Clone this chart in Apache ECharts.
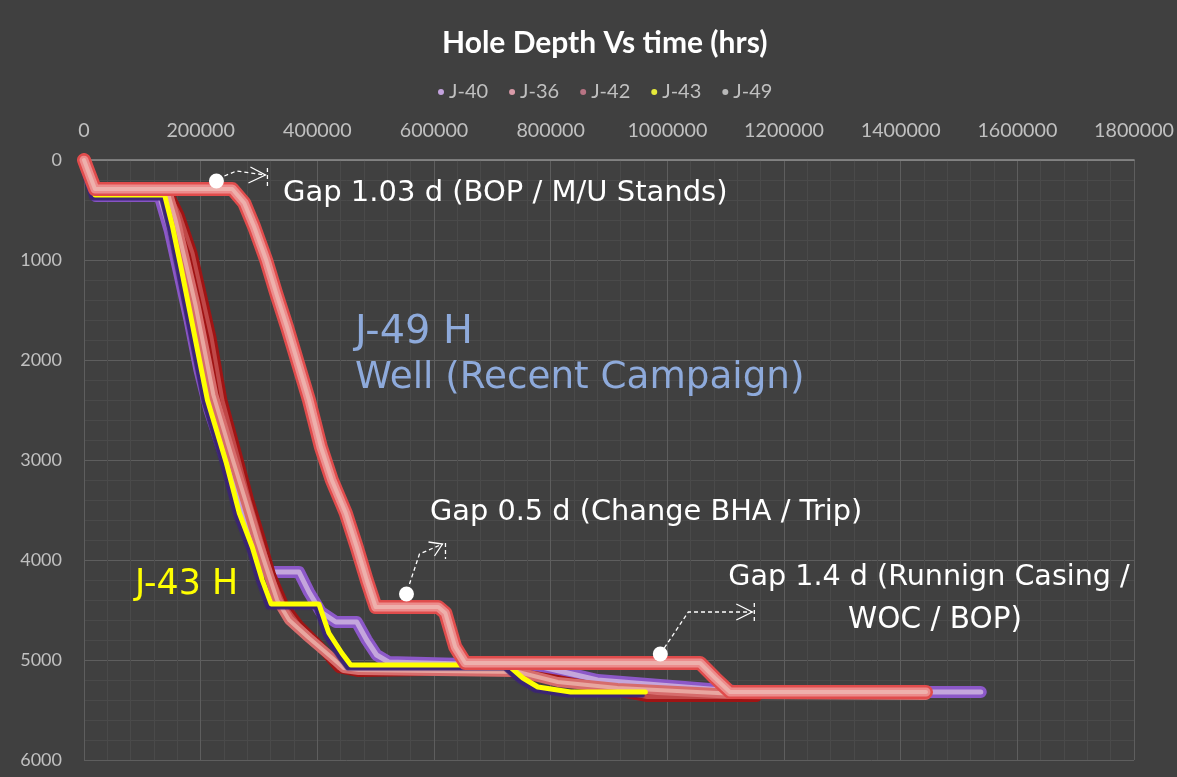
<!DOCTYPE html>
<html><head><meta charset="utf-8">
<script src="https://cdn.jsdelivr.net/npm/echarts@6/dist/echarts.min.js"></script>
<style>html,body{margin:0;padding:0;background:#404040;}#c{width:1177px;height:777px;}</style>
</head><body><div id="c"></div><script>
// ---- data (time, depth) ----
const wellNames = ['J-40','J-36','J-42','J-43','J-49'];
const j40 = [[0,0],[6800,120],[20500,360],[129700,360],[146700,700],[163800,1150],[180900,1600],[197900,2100],[215000,2500],[249100,3100],[274700,3550],[296900,3880],[313900,4120],[368500,4120],[385600,4320],[406100,4520],[431700,4620],[467500,4620],[484600,4800],[501600,4950],[522100,5020],[778000,5060],[880400,5200],[1051000,5280],[1136300,5320],[1537300,5320]];
const j36 = [[0,0],[6800,120],[22200,300],[143300,320],[157000,600],[174000,1020],[191100,1450],[208200,1950],[221800,2350],[252500,2950],[276400,3400],[296900,3800],[313900,4100],[331000,4400],[351500,4600],[385600,4780],[419700,4950],[445300,5080],[470900,5100],[743900,5120],[812200,5220],[914500,5280],[1119300,5340],[1443400,5350]];
const j42 = [[0,0],[6800,120],[23900,320],[146700,350],[163800,550],[186000,930],[218400,1770],[237200,2400],[262800,2950],[283200,3400],[303700,3800],[320800,4150],[342900,4450],[368500,4650],[402700,4850],[436800,5080],[470900,5120],[709800,5100],[812200,5200],[965700,5370],[1153400,5370]];
const j43 = [[0,0],[6800,120],[18800,350],[138200,350],[151900,670],[167200,1100],[180900,1500],[201300,2100],[211600,2400],[244000,3030],[266200,3530],[288400,3870],[305500,4200],[320800,4440],[402700,4440],[419700,4730],[441900,4930],[457300,5050],[726800,5050],[752400,5180],[778000,5270],[834300,5320],[962300,5320]];
const j49 = [[0,0],[5100,80],[18800,290],[254200,290],[274700,430],[291800,670],[312200,1000],[329300,1330],[348100,1670],[365100,2000],[385600,2400],[406100,2870],[424800,3200],[448700,3530],[467500,3870],[484600,4200],[499900,4470],[607400,4470],[619400,4530],[636400,4870],[653500,5030],[1056100,5030],[1081700,5180],[1107300,5320],[1443400,5320]];
const gapPoints = [[227000,210],[552800,4340],[987900,4940]];
const gapLabels = ['Gap 1.03 d (BOP / M/U Stands)','Gap 0.5 d (Change BHA / Trip)','Gap 1.4 d (Runnign Casing /','WOC / BOP)'];
const xMax = 1800000, xStep = 200000, yMax = 6000, yStep = 1000;

const chart = echarts.init(document.getElementById('c'), null, {renderer:'canvas'});
const lbl = '#c0c0c0';

function layer(name, data, color, width, extra){
  return Object.assign({
    name, type:'line', data, showSymbol:false, symbol:'none', silent:true,
    lineStyle:{color, width, cap:'round', join:'round'}, animation:false
  }, extra||{});
}
const series = [
  layer('J-40', j40, '#8c58c8', 12), layer('J-40', j40, '#c4a6dc', 5),
  layer('J-42', j42, '#a01414', 10), layer('J-42', j42, '#c04848', 4),
  layer('J-36', j36, '#d66c6c', 10), layer('J-36', j36, '#e8a6a0', 4),
  layer('J-43', j43, '#ffff00', 5, {lineStyle:{color:'#ffff00', width:5, cap:'round', join:'round', shadowColor:'#3a2474', shadowBlur:1, shadowOffsetX:-3, shadowOffsetY:3}}),
  layer('J-49', j49, '#e04c4c', 14), layer('J-49', j49, '#ec8c8c', 9), layer('J-49', j49, '#eeb0ac', 4),
  {name:'gaps', type:'scatter', data:gapPoints, symbol:'circle', symbolSize:15, itemStyle:{color:'#ffffff', opacity:1}, silent:true, animation:false, z:5}
];

chart.setOption({
  backgroundColor:'#404040',
  animation:false,
  title:{text:'Hole Depth Vs time (hrs)', left:437, top:23,
    textStyle:{color:'#ffffff', fontSize:30, fontWeight:'bold', fontFamily:'Lato'}},
  legend:{top:77, left:433, icon:'circle', itemWidth:6, itemHeight:6, itemGap:21,
    textStyle:{color:lbl, fontSize:20, fontFamily:'Lato'},
    data:[
      {name:'J-40', itemStyle:{color:'#c3a2de'}},
      {name:'J-36', itemStyle:{color:'#d99aa8'}},
      {name:'J-42', itemStyle:{color:'#b87484'}},
      {name:'J-43', itemStyle:{color:'#e6ea3a'}},
      {name:'J-49', itemStyle:{color:'#b8b8b8'}}
    ]},
  grid:{left:84, top:160, right:38, bottom:17, containLabel:false},
  xAxis:{type:'value', position:'top', min:0, max:xMax, interval:xStep,
    axisLine:{show:true, lineStyle:{color:'#8e8e8e', width:1.5}},
    axisTick:{show:false},
    axisLabel:{color:lbl, fontSize:19.7, fontFamily:'Lato', margin:19, formatter:v=>String(v)},
    splitLine:{show:true, lineStyle:{color:'#5e5e5e', width:1}},
    minorTick:{show:false, splitNumber:5},
    minorSplitLine:{show:true, lineStyle:{color:'#4a4a4a', width:1}}},
  yAxis:{type:'value', inverse:true, min:0, max:yMax, interval:yStep,
    axisLine:{show:false}, axisTick:{show:false},
    axisLabel:{color:lbl, fontSize:18, fontFamily:'Lato', margin:22, formatter:v=>String(v)},
    splitLine:{show:true, lineStyle:{color:'#5e5e5e', width:1}},
    minorTick:{show:false, splitNumber:5},
    minorSplitLine:{show:true, lineStyle:{color:'#4a4a4a', width:1}}},
  series
});

// ---- annotations ----
const mctx = document.createElement('canvas').getContext('2d');
function fitSize(text, family, weight, target){
  mctx.font = weight + ' 100px ' + family;
  return 100 * target / mctx.measureText(text).width;
}
const annFam = 'DejaVu Sans';
function txt(text, x, y, color, family, target, align){
  const size = fitSize(text, family, 'normal', target);
  return {type:'text', x, y, z:100, style:{text, fill:color, font: size.toFixed(1)+'px "'+family+'"',
    align: align||'left', textAlign: align||'left', verticalAlign:'middle', textVerticalAlign:'middle'}};
}
const px = gapPoints.map(p => chart.convertToPixel({gridIndex:0}, p));
const arrowDefs = [
  {path:[[8,-5],[20,-10],[49,-6]], head:[[34,-14],[49,-6],[32,2]], bar:[[51,-13],[51,8]]},
  {path:[[3,-10],[13,-40],[36,-50]], head:[[22,-52],[36,-50],[28,-38]], bar:[[39,-51],[39,-35]]},
  {path:[[4,-6],[28,-42],[92,-42]], head:[[76,-50],[92,-42],[76,-34]], bar:[[94,-51],[94,-30]]}
];
const graphic = [];
arrowDefs.forEach((a,i)=>{
  const o = px[i];
  const m = pts => pts.map(p=>[o[0]+p[0], o[1]+p[1]]);
  const st = {stroke:'#ffffff', lineWidth:1.3, lineDash:[4,3], fill:null};
  graphic.push({type:'polyline', z:100, shape:{points:m(a.path)}, style:st});
  graphic.push({type:'polyline', z:100, shape:{points:m(a.head)}, style:{stroke:'#ffffff', lineWidth:1.3, fill:null}});
  graphic.push({type:'polyline', z:100, shape:{points:m(a.bar)}, style:st});
});
graphic.push(txt(gapLabels[0], 283, 193, '#ffffff', annFam, 444));
graphic.push(txt(gapLabels[1], 430, 513, '#ffffff', annFam, 432));
graphic.push(txt(gapLabels[2], 929, 578, '#ffffff', annFam, 401, 'center'));
graphic.push(txt(gapLabels[3], 935, 620, '#ffffff', annFam, 174, 'center'));
graphic.push(txt('J-49 H', 355, 333, '#8eaadb', annFam, 118));
graphic.push(txt('Well (Recent Campaign)', 355, 378, '#8eaadb', annFam, 450));
graphic.push(txt('J-43 H', 135, 585, '#ffff00', annFam, 103));
chart.setOption({graphic});
</script></body></html>
